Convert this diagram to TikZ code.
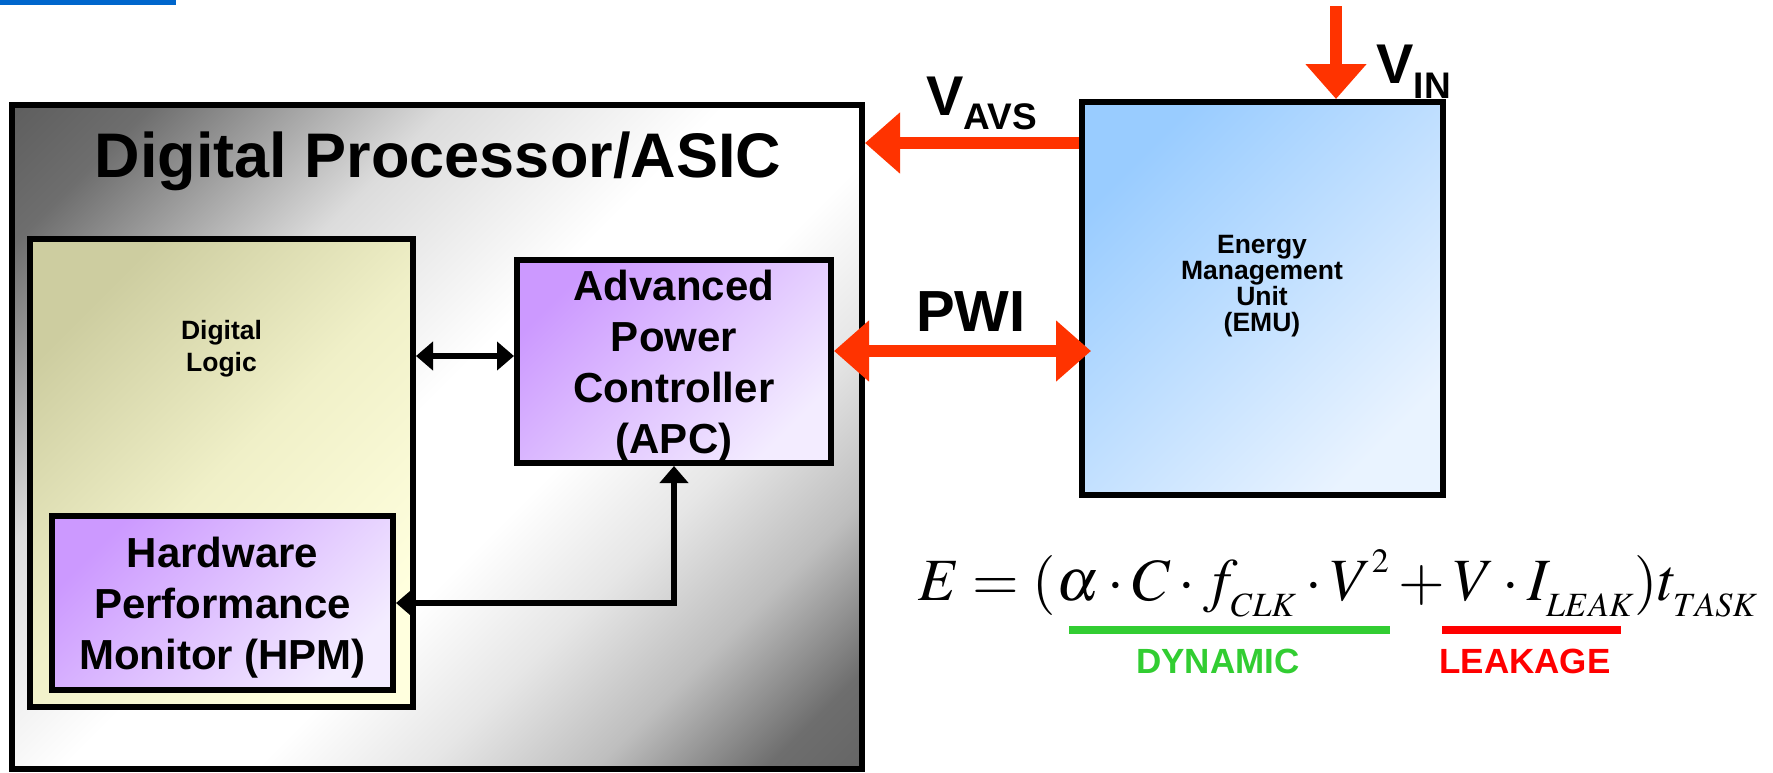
\documentclass[tikz,border=0pt]{standalone}
\usepackage{mathptmx}
\usepackage[no-math]{fontspec}
\setmainfont{Liberation Sans}
\usetikzlibrary{arrows.meta,calc}
\DeclareMathSizes{30}{30}{17}{12}
\definecolor{barblue}{RGB}{0,102,204}
\definecolor{pwrred}{RGB}{255,51,0}
\definecolor{apcdark}{RGB}{204,153,255}
\definecolor{apclight}{RGB}{243,236,255}
\definecolor{emudark}{RGB}{153,204,255}
\definecolor{emulight}{RGB}{233,243,255}
\definecolor{logicdark}{RGB}{205,205,160}
\definecolor{logicmid}{RGB}{240,240,200}
\definecolor{logiclight}{RGB}{255,255,222}
\definecolor{dyngreen}{RGB}{50,205,50}
\definecolor{leakred}{RGB}{255,0,0}
\pgfdeclareverticalshading{asicfade}{100bp}{rgb(0bp)=(.373,.373,.373); rgb(15bp)=(.373,.373,.373); rgb(21bp)=(.431,.431,.431); rgb(35bp)=(.863,.863,.863); rgb(48bp)=(1,1,1); rgb(57bp)=(1,1,1); rgb(65bp)=(.902,.902,.902); rgb(73bp)=(.745,.745,.745); rgb(81bp)=(.431,.431,.431); rgb(86bp)=(.392,.392,.392); rgb(100bp)=(.392,.392,.392)}
\newcommand{\bfsz}[2]{\fontsize{#1}{#2}\selectfont\bfseries}
\newcommand{\lowsub}[1]{\lower3.5pt\hbox{$\scriptstyle #1$}}

\begin{document}
\begin{tikzpicture}[x=0.5pt,y=-0.5pt,
  blk/.style={draw, line width=3pt, inner sep=0pt, align=center},
  purp/.style={blk, top color=apcdark, bottom color=apclight, shading angle=45, text depth=0pt, font=\bfsz{21}{25.5}},
  sig/.style={line width=3pt, {Triangle[width=14pt,length=8.5pt]}-{Triangle[width=14pt,length=8.5pt]}},
  pwr/.style={line width=6pt, pwrred, -{Triangle[width=29.5pt,length=17.5pt]}}]
  \useasboundingbox (0,0) rectangle (1773,772);
  \fill[barblue] (0,0) rectangle (176,5);
  \node[blk, shade, shading=asicfade, shading angle=-135, minimum width=425pt, minimum height=332pt] (asic) at (437,437) {};
  \node[font=\bfsz{31.5}{36}, anchor=base] (title) at (438,177) {Digital Processor/ASIC};
  \node[blk, top color=logicdark, bottom color=logiclight, middle color=logicmid, shading angle=45, minimum width=191.5pt, minimum height=234pt] (logic) at (221.5,473) {};
  \node[font=\bfsz{13.25}{16}, align=center, anchor=north, inner sep=0pt] (logictxt) at (221.5,320) {Digital\\Logic};
  \node[purp, minimum width=157pt, minimum height=101.5pt] (apc) at (674,361.5) {Advanced\\Power\\Controller\\(APC)};
  \node[purp, minimum width=170.5pt, minimum height=87pt] (hpm) at (222.5,603) {Hardware\\Performance\\Monitor (HPM)};
  \node[blk, top color=emudark, bottom color=emulight, shading angle=45, minimum width=180.5pt, minimum height=196.5pt] (emu) at (1262.5,298.5) {};
  \node[font=\bfsz{13.25}{12.9}, align=center, anchor=north, inner sep=0pt] (emutxt) at (1262,235) {Energy\\Management\\Unit\\(EMU)};
  \draw[sig] ([yshift=2.75pt]apc.west) coordinate (dlink) -- (dlink -| logic.east);
  \draw[sig] (hpm.east) -| (apc.south);
  \draw[pwr] ([yshift=-22pt]emu.north west) coordinate (avs) -- (avs -| asic.east);
  \coordinate (vintop) at (1336,6);
  \draw[pwr] (vintop) -- (vintop |- emu.north);
  \draw[pwr, {Triangle[width=29.5pt,length=17.5pt]}-{Triangle[width=29.5pt,length=17.5pt]}] ([yshift=5.25pt]apc.east) coordinate (pwi) -- ($(pwi -| emu.west)+(12,0)$);
  \node[font=\bfsz{29}{30}, anchor=base] (pwilbl) at (971,331) {PWI};
  \node[font=\bfsz{28}{30}, anchor=base west, inner sep=0pt] (avslbl) at (926,115) {V\raisebox{-7pt}{\bfsz{18.5}{20}AVS}};
  \node[font=\bfsz{28}{30}, anchor=base west, inner sep=0pt] (vinlbl) at (1376,83) {V\raisebox{-7.5pt}{\bfsz{18.5}{20}IN}};
  \node[anchor=base west, inner sep=0pt, font=\fontsize{30}{36}\selectfont] (energy) at (918,600) {$E=(\alpha\cdot C\cdot f_{\lowsub{CLK}}\cdot V^{\raise3pt\hbox{$\scriptstyle 2$}}+V\cdot I_{\lowsub{LEAK}})t_{\lowsub{TASK}}$};
  \draw[line width=4pt, dyngreen] (1069,630) -- (1390,630);
  \draw[line width=4pt, leakred] (1442,630) -- (1621,630);
  \node[font=\bfsz{17.5}{20}, text=dyngreen, anchor=base] (dyn) at (1218,673) {DYNAMIC};
  \node[font=\bfsz{17.5}{20}, text=leakred, anchor=base] (leak) at (1525,673) {LEAKAGE};
\end{tikzpicture}
\end{document}
